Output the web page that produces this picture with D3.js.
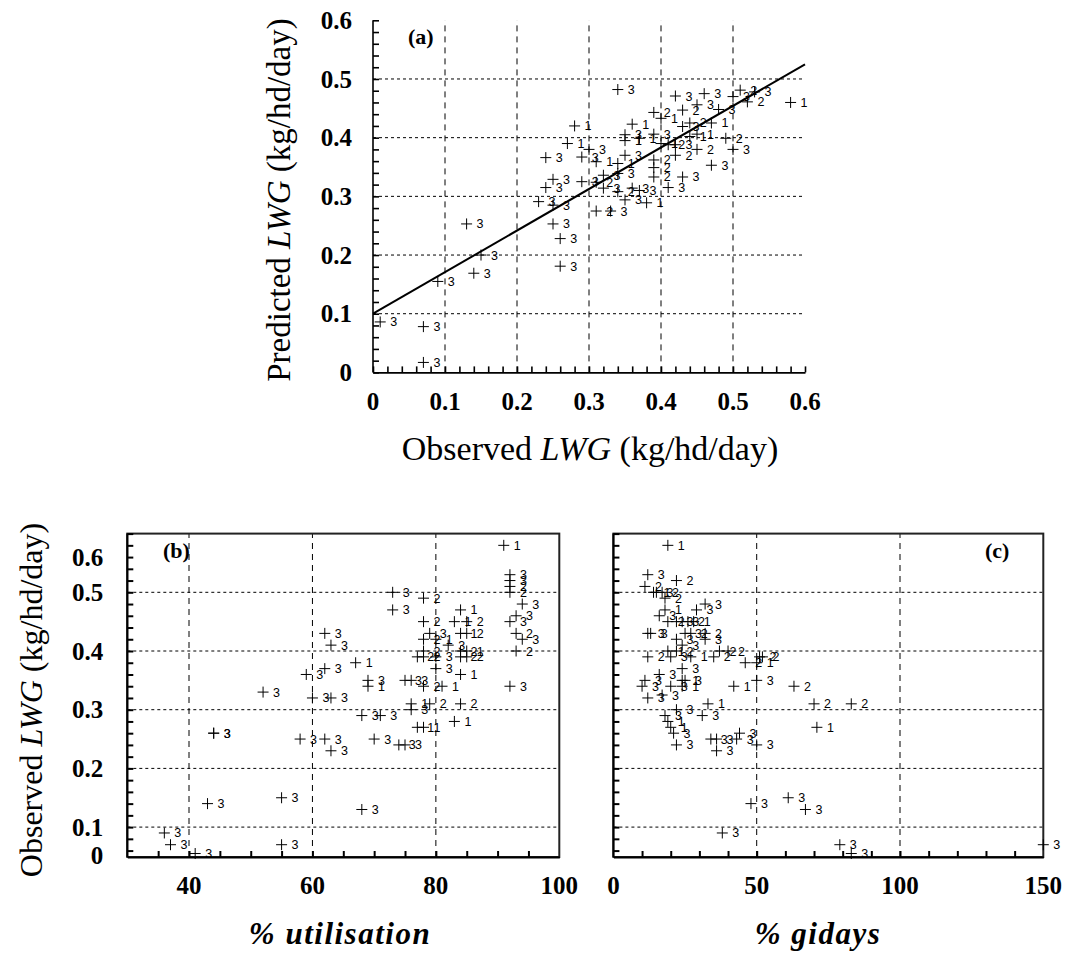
<!DOCTYPE html>
<html><head><meta charset="utf-8">
<script src="https://cdn.jsdelivr.net/npm/d3@7"></script>
<style>body{margin:0;background:#fff}</style>
</head><body>
<svg id="chart" width="1069" height="978" xmlns="http://www.w3.org/2000/svg"></svg>
<script>
// ---------- Panel (a): observed vs predicted LWG ----------
const obsA  = [0.01,0.07,0.07,0.09,0.13,0.14,0.15,0.26,0.26,0.25,0.23,0.25,0.24,0.25,0.24,0.27,0.28,0.29,0.30,0.31,0.29,0.31,0.32,0.32,0.34,0.36,0.37,0.41,0.35,0.38,0.31,0.33,0.34,0.42,0.46,0.51,0.50,0.52,0.53,0.58,0.39,0.43,0.45,0.48,0.40,0.44,0.47,0.36,0.43,0.35,0.37,0.39,0.45,0.49,0.40,0.41,0.42,0.44,0.45,0.50,0.35,0.34,0.39,0.42,0.47,0.39,0.34,0.39,0.43,0.35];
const predA = [0.086,0.078,0.017,0.155,0.253,0.169,0.200,0.181,0.228,0.253,0.291,0.285,0.315,0.329,0.366,0.390,0.420,0.367,0.380,0.359,0.325,0.324,0.336,0.314,0.308,0.314,0.310,0.315,0.294,0.289,0.275,0.275,0.482,0.471,0.475,0.481,0.470,0.461,0.478,0.460,0.443,0.447,0.456,0.448,0.433,0.425,0.425,0.423,0.419,0.405,0.399,0.406,0.406,0.399,0.390,0.388,0.388,0.402,0.380,0.380,0.370,0.356,0.362,0.370,0.353,0.349,0.339,0.333,0.333,0.395];
const catA  = [3,3,3,3,3,3,3,3,3,3,3,3,3,3,3,1,1,3,3,1,3,2,3,3,2,3,3,3,3,1,2,3,3,3,3,2,3,2,3,1,2,2,3,3,1,2,1,1,3,3,1,3,1,2,1,2,3,1,2,3,3,1,2,2,3,2,3,2,3,1];
const fitX = [0, 0.6];
const fitY = [0.1, 0.525];

// ---------- Panel (b): % utilisation vs observed LWG ----------
const utilB = [62,63,62,59,52,60,63,44,44,58,62,63,55,43,36,37,55,41,91,92,92,92,92,73,78,94,73,84,78,83,85,92,93,79,84,85,93,94,78,80,82,78,84,85,93,77,78,80,84,85,67,80,84,92,69,69,75,76,78,81,76,76,79,84,68,71,77,78,83,70,74,75,68];
const obsB  = [0.43,0.41,0.37,0.36,0.33,0.32,0.32,0.26,0.26,0.25,0.25,0.23,0.15,0.14,0.09,0.07,0.07,0.01,0.58,0.53,0.52,0.51,0.50,0.50,0.49,0.48,0.47,0.47,0.45,0.45,0.45,0.45,0.46,0.43,0.43,0.43,0.43,0.42,0.42,0.42,0.41,0.40,0.40,0.40,0.40,0.39,0.39,0.39,0.39,0.39,0.38,0.37,0.36,0.34,0.35,0.34,0.35,0.35,0.34,0.34,0.31,0.30,0.31,0.31,0.29,0.29,0.27,0.27,0.28,0.25,0.24,0.24,0.13];
const catB  = [3,3,3,3,3,3,3,3,3,3,3,3,3,3,3,3,3,3,1,3,3,2,2,3,2,3,3,1,2,1,2,3,3,3,1,2,2,3,2,1,3,2,2,1,2,2,2,3,2,2,1,3,1,3,3,1,3,3,2,1,1,3,2,2,3,3,1,1,1,3,3,3,3];

// ---------- Panel (c): % gidays vs observed LWG ----------
const gidC = [19,12,22,11,14,15,17,18,32,29,18,16,19,22,24,26,28,12,13,25,27,32,22,32,24,37,40,19,22,12,20,27,35,46,50,51,52,24,16,24,25,11,10,20,24,42,50,63,12,17,33,70,83,22,31,18,19,20,71,21,22,34,36,43,44,36,50,48,61,67,38,79,150,83];
const obsC = [0.58,0.53,0.52,0.51,0.50,0.50,0.50,0.49,0.48,0.47,0.47,0.46,0.45,0.45,0.45,0.45,0.45,0.43,0.43,0.43,0.43,0.43,0.42,0.42,0.41,0.40,0.40,0.40,0.40,0.39,0.39,0.39,0.39,0.38,0.38,0.39,0.39,0.37,0.36,0.35,0.35,0.35,0.34,0.34,0.34,0.34,0.35,0.34,0.32,0.325,0.31,0.31,0.31,0.30,0.29,0.29,0.28,0.27,0.27,0.26,0.24,0.25,0.25,0.25,0.26,0.23,0.24,0.14,0.15,0.13,0.09,0.07,0.07,0.01];
const catC = [1,3,2,2,1,3,2,2,3,3,1,3,2,3,3,2,1,3,3,3,2,2,3,3,3,2,2,1,2,2,3,1,2,2,1,2,2,3,3,1,3,3,3,3,1,1,3,2,3,3,1,2,2,3,3,3,1,1,1,3,3,3,3,3,3,3,3,3,3,3,3,3,3,3];

// ---------- tick labels ----------
const yTicks   = [0, 0.1, 0.2, 0.3, 0.4, 0.5, 0.6];
const xTicksA  = [0, 0.1, 0.2, 0.3, 0.4, 0.5, 0.6];
const xTicksB  = [40, 60, 80, 100];
const xTicksC  = [0, 50, 100, 150];

const svg = d3.select("#chart");
const SERIF = "'Liberation Serif', 'Times New Roman', serif";
const SANS = "'Liberation Sans', Arial, sans-serif";

function zip(xs, ys, cs){ return xs.map((v,i)=>({x:v, y:ys[i], c:cs[i]})); }

// o.y  : linear axis scale (grid, ticks, labels)
// o.yp : scale used to place the points (equal to o.y above 0.1)
// o.bottom : pixel of the bottom of the plotting frame
function drawPanel(o){
  const g = svg.append("g");
  const x = o.x, y = o.y, yp = o.yp || o.y;
  const [x0,x1] = x.range();
  const y1 = y(0.6), y0 = o.bottom;
  // grid
  g.selectAll("line.vg").data(o.xGrid).join("line")
    .attr("x1", d=>x(d)).attr("x2", d=>x(d)).attr("y1", y0).attr("y2", y1)
    .attr("stroke","#000").attr("stroke-width",1).attr("stroke-dasharray","6,5");
  g.selectAll("line.hg").data(o.yGrid).join("line")
    .attr("x1", x0).attr("x2", x1).attr("y1", d=>y(d)).attr("y2", d=>y(d))
    .attr("stroke","#000").attr("stroke-width",1).attr("stroke-dasharray","3,3");
  // frame
  if (o.frame){
    g.append("rect").attr("x",x0).attr("y",y1).attr("width",x1-x0).attr("height",y0-y1)
      .attr("fill","none").attr("stroke","#222").attr("stroke-width",2);
  }
  // minor ticks via axes (inward)
  const yMinor = d3.range(0, 0.6001, 0.02).filter(v => y(v) <= y0 + 0.5);
  const ax = g.append("g").attr("transform",`translate(${x0},0)`)
    .call(d3.axisLeft(y).tickValues(yMinor).tickSizeInner(-6).tickSizeOuter(0).tickFormat(""));
  ax.select("path").attr("d", `M0,${y1}V${y0}`);
  ax.selectAll("path,line").attr("stroke","#000").attr("stroke-width",o.frame?2:1.6);
  if (o.xMinor){
    const bx = g.append("g").attr("transform",`translate(0,${y0})`)
      .call(d3.axisBottom(x).tickValues(o.xMinor).tickSizeInner(-6).tickSizeOuter(0).tickFormat(""));
    bx.selectAll("path,line").attr("stroke","#000").attr("stroke-width",o.frame?2:1.6);
  }
  // y tick labels
  if (o.yLabels){
    g.selectAll("text.yl").data(yTicks).join("text")
      .attr("x", x0 - o.yLabelGap).attr("y", d=>o.yLabelPos(d)).attr("dy","0.35em")
      .attr("text-anchor","end").attr("font-family",SERIF).attr("font-weight","bold")
      .attr("font-size",25).text(d=>d===0?"0":d3.format(".1f")(d));
  }
  // x tick labels
  g.selectAll("text.xl").data(o.xTicks).join("text")
    .attr("x", d=>x(d)).attr("y", y0 + o.xLabelGap).attr("dy","0.35em")
    .attr("text-anchor","middle").attr("font-family",SERIF).attr("font-weight","bold")
    .attr("font-size",25).text(d=>o.fmt(d));
  // panel letter
  g.append("text").attr("x", o.tagX).attr("y", y1 + 24).attr("font-family",SERIF)
    .attr("font-weight","bold").attr("font-size",22).text(o.tag);
  // fit line
  if (o.fit){
    g.append("path").datum(o.fit)
      .attr("d", d3.line().x(d=>x(d[0])).y(d=>y(d[1])))
      .attr("stroke","#000").attr("stroke-width",2).attr("fill","none");
  }
  // points
  const pts = g.append("g");
  pts.selectAll("path").data(o.data).join("path")
    .attr("d","M-5.5,0H5.5M0,-5.5V5.5")
    .attr("transform", d=>`translate(${x(d.x)},${yp(d.y)})`)
    .attr("stroke","#000").attr("stroke-width",1).attr("fill","none");
  pts.selectAll("text").data(o.data).join("text")
    .attr("x", d=>x(d.x)+10).attr("y", d=>yp(d.y)).attr("dy","0.36em")
    .attr("font-family",SANS).attr("font-size",12.5).attr("fill","#000")
    .text(d=>d.c);
  return g;
}

// Panel (a)
const xA = d3.scaleLinear().domain([0,0.6]).range([373,805]);
const yA = d3.scaleLinear().domain([0,0.6]).range([372.4,20.3]);
drawPanel({x:xA, y:yA, bottom:yA(0), xGrid:[0.1,0.2,0.3,0.4,0.5], yGrid:[0.1,0.2,0.3,0.4,0.5],
  frame:false, xMinor:d3.range(0,0.6001,0.02), yLabels:true, yLabelGap:21, yLabelPos:d=>yA(d),
  xTicks:xTicksA, xLabelGap:29, fmt:d=>d===0?"0":d3.format(".1f")(d),
  tag:"(a)", tagX:408, fit:fitX.map((v,i)=>[v,fitY[i]]), data:zip(obsA,predA,catA)});

// Panels (b), (c): shared observed-LWG axis; frame is cut just below 0.05
const yBC = d3.scaleLinear().domain([0,0.6]).range([885.8,533.6]);
const bottomBC = 857;
const yPtsBC = d3.scaleLinear().domain([0,0.07,0.1,0.6])
  .range([855, yBC(0.07), yBC(0.1), yBC(0.6)]);
const yLabBC = d => d===0 ? bottomBC - 2 : (d===0.6 ? yBC(0.56) : yBC(d));

const xB = d3.scaleLinear().domain([30,100]).range([127.3,559.3]);
drawPanel({x:xB, y:yBC, yp:yPtsBC, bottom:bottomBC, xGrid:[40,60,80], yGrid:[0.1,0.2,0.3,0.4,0.5],
  frame:true, xMinor:d3.range(35,100,5), yLabels:true, yLabelGap:24, yLabelPos:yLabBC,
  xTicks:xTicksB, xLabelGap:28, fmt:d=>String(d),
  tag:"(b)", tagX:163, fit:null, data:zip(utilB,obsB,catB)});

const xC = d3.scaleLinear().domain([0,150]).range([613.4,1043.3]);
drawPanel({x:xC, y:yBC, yp:yPtsBC, bottom:bottomBC, xGrid:[50,100], yGrid:[0.1,0.2,0.3,0.4,0.5],
  frame:true, xMinor:d3.range(10,150,10), yLabels:false,
  xTicks:xTicksC, xLabelGap:28, fmt:d=>String(d),
  tag:"(c)", tagX:985, fit:null, data:zip(gidC,obsC,catC)});

// Axis titles
function lwgTitle(sel, first){
  sel.append("tspan").text(first + " ");
  sel.append("tspan").attr("font-style","italic").text("LWG");
  sel.append("tspan").text(" (kg/hd/day)");
}
svg.append("text").attr("transform","translate(290,200) rotate(-90)")
  .attr("text-anchor","middle").attr("font-family",SERIF).attr("font-size",33)
  .call(lwgTitle,"Predicted");
svg.append("text").attr("x",590).attr("y",460)
  .attr("text-anchor","middle").attr("font-family",SERIF).attr("font-size",34)
  .call(lwgTitle,"Observed");
svg.append("text").attr("transform","translate(42,700) rotate(-90)")
  .attr("text-anchor","middle").attr("font-family",SERIF).attr("font-size",32)
  .call(lwgTitle,"Observed");
svg.append("text").attr("x",340).attr("y",944).attr("text-anchor","middle")
  .attr("font-family",SERIF).attr("font-style","italic").attr("font-weight","bold")
  .attr("font-size",31).attr("letter-spacing",1.5).text("% utilisation");
svg.append("text").attr("x",818).attr("y",944).attr("text-anchor","middle")
  .attr("font-family",SERIF).attr("font-style","italic").attr("font-weight","bold")
  .attr("font-size",31).attr("letter-spacing",1.5).text("% gidays");
</script>
</body></html>
